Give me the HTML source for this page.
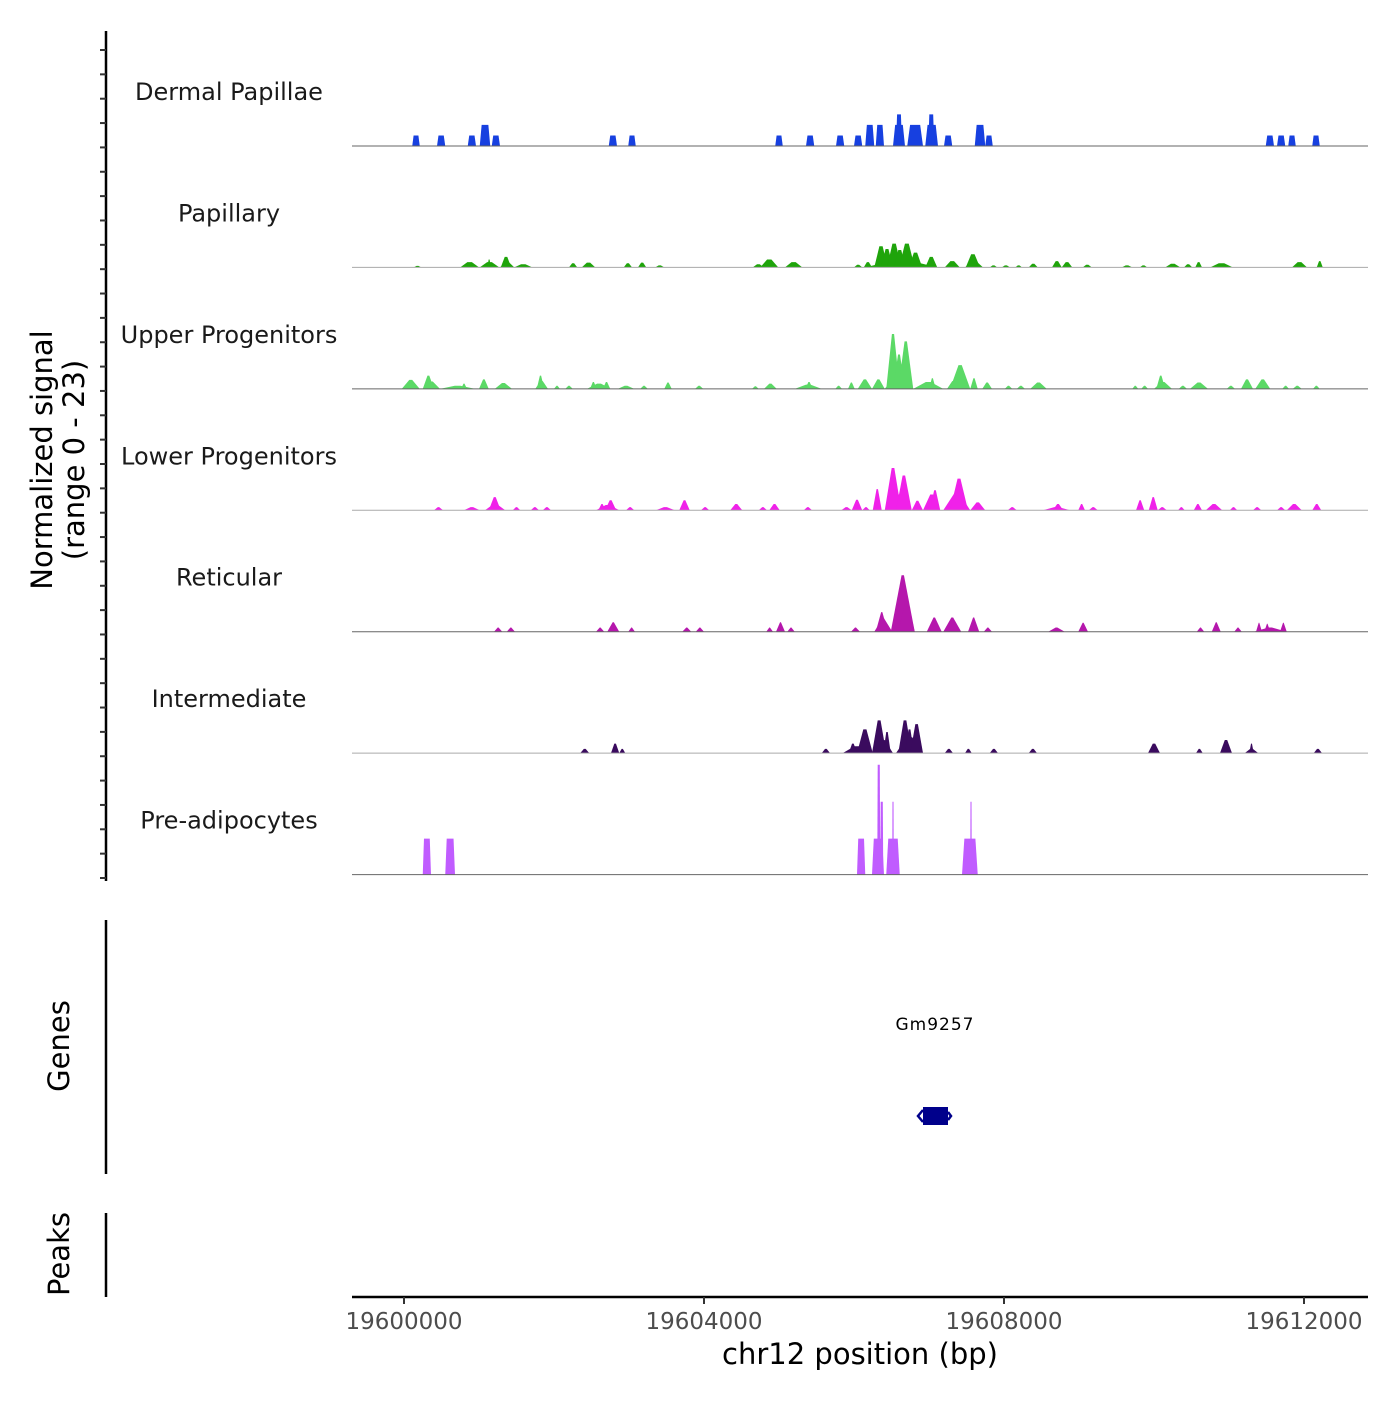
<!DOCTYPE html>
<html><head><meta charset="utf-8"><style>
html,body{margin:0;padding:0;background:#fff;}
svg text{font-family:"DejaVu Sans","Liberation Sans",sans-serif;}
</style></head><body>
<svg id="chart" width="1400" height="1400" viewBox="0 0 1400 1400" xmlns="http://www.w3.org/2000/svg">
<g id="tracks"></g>
<g id="yaxis">
<line x1="106" y1="31" x2="106" y2="881" stroke="#000" stroke-width="2.5"/>
</g>
<text transform="translate(52,460) rotate(-90)" text-anchor="middle" font-size="29">Normalized signal</text>
<text transform="translate(84,460) rotate(-90)" text-anchor="middle" font-size="29">(range 0 - 23)</text>
<line x1="106" y1="920" x2="106" y2="1174" stroke="#000" stroke-width="2.5"/>
<text transform="translate(69,1046) rotate(-90)" text-anchor="middle" font-size="29">Genes</text>
<line x1="106" y1="1213" x2="106" y2="1297" stroke="#000" stroke-width="2.5"/>
<text transform="translate(69,1254) rotate(-90)" text-anchor="middle" font-size="29">Peaks</text>
<g>
<text x="935" y="1030" text-anchor="middle" font-size="17" letter-spacing="1">Gm9257</text>
<rect x="923" y="1107" width="25" height="18" fill="#00008b"/>
<path d="M923 1110 L918 1116 L923 1122 M948 1112 L951 1116 L948 1120" stroke="#00008b" stroke-width="2.5" fill="none"/>
</g>
<g id="xaxis">
<line x1="352" y1="1297" x2="1368" y2="1297" stroke="#000" stroke-width="2.5"/>
</g>
<text x="860" y="1364" text-anchor="middle" font-size="29">chr12 position (bp)</text>
</svg>
<script>
const trackNames = ["Dermal Papillae","Papillary","Upper Progenitors","Lower Progenitors","Reticular","Intermediate","Pre-adipocytes"];
const trackColors = ["#1740e0","#1fa40b","#5bd966","#f021e9","#b517ac","#3a0b5e","#c05cff"];
const xTicks = [19600000,19604000,19608000,19612000];
const xTickLabels = ["19600000","19604000","19608000","19612000"];
const yMax = 23;
// peak segments: start / end (kb offset from 19600000), value
const dpStart = [0.11,0.44,0.85,1.01,1.17,2.73,2.99,4.95,5.36,5.76,6.00,6.15,6.29,6.52,6.56,6.71,6.95,6.99,7.20,7.61,7.75,11.49,11.64,11.79,12.11];
const dpEnd   = [0.21,0.55,0.96,1.15,1.28,2.84,3.09,5.05,5.47,5.87,6.11,6.27,6.40,6.68,6.64,6.92,7.12,7.07,7.31,7.75,7.85,11.60,11.75,11.89,12.21];
const dpValue = [2,2,2,4,2,2,2,2,2,2,2,4,4,4,6,4,4,6,2,4,2,2,2,2,2];
const papStart = [0.13,0.75,1.01,1.11,1.28,1.29,1.47,2.20,2.37,2.93,3.12,3.35,4.65,4.75,5.08,6.00,6.13,6.15,6.27,6.36,6.44,6.53,6.60,6.73,6.95,7.21,7.48,7.49,7.81,7.97,8.15,8.33,8.64,8.77,9.05,9.57,9.81,10.15,10.40,10.55,10.75,11.84,12.17];
const papEnd   = [0.23,1.00,1.27,1.16,1.47,1.43,1.71,2.31,2.55,3.04,3.23,3.47,4.80,4.99,5.31,6.11,6.24,7.11,6.45,6.52,6.63,6.69,6.81,6.91,7.11,7.41,7.72,7.68,7.91,8.08,8.24,8.45,8.77,8.91,9.17,9.71,9.91,10.35,10.51,10.64,11.05,12.04,12.25];
const papValue = [0.3,1.0,1.0,1.5,1.0,2.0,0.6,0.8,0.9,0.8,0.9,0.4,0.6,1.5,1.0,0.5,1.0,1.3,4.0,3.5,4.5,3.3,4.5,2.8,2.0,1.2,1.2,2.5,0.4,0.4,0.4,0.7,1.2,1.0,0.5,0.4,0.4,0.7,0.6,1.0,0.8,1.0,1.2];
const upStart = [-0.03,0.25,0.25,0.48,0.76,1.00,1.21,1.75,1.77,2.00,2.15,2.44,2.48,2.65,2.85,3.15,3.47,3.88,4.64,4.80,5.21,5.35,5.75,5.92,6.05,6.24,6.41,6.43,6.52,6.59,6.79,7.00,7.24,7.28,7.55,7.71,8.01,8.17,8.35,9.71,9.83,10.00,10.03,10.33,10.48,10.97,11.16,11.35,11.71,11.85,12.12];
const upEnd   = [0.21,0.48,0.40,0.95,0.84,1.13,1.44,1.92,1.87,2.08,2.25,2.76,2.57,2.75,3.07,3.25,3.57,3.99,4.73,4.97,5.57,5.45,5.84,6.01,6.24,6.41,6.79,6.61,6.68,6.79,7.19,7.09,7.41,7.55,7.65,7.84,8.11,8.28,8.57,9.79,9.92,10.24,10.15,10.44,10.72,11.08,11.32,11.55,11.80,11.97,12.21];
const upValue = [1.7,1.4,2.5,0.6,1.0,1.8,1.1,1.5,2.5,0.6,0.6,1.0,1.3,1.3,0.6,0.6,1.2,0.6,0.5,1.0,0.8,1.3,0.6,1.2,1.8,1.8,3.0,10.4,6.5,9.0,1.3,2.0,1.5,4.5,2.0,1.2,0.6,0.6,1.2,0.6,0.6,1.3,2.5,0.6,1.2,0.6,1.8,1.8,0.6,0.6,0.6];
const lpStart = [0.40,0.80,1.08,1.13,1.45,1.69,1.85,2.56,2.59,2.68,2.96,3.36,3.67,3.96,4.35,4.73,4.87,5.33,5.83,5.97,6.11,6.25,6.41,6.41,6.56,6.77,6.92,7.01,7.19,7.28,7.55,8.05,8.52,8.65,8.99,9.13,9.76,9.93,10.05,10.32,10.53,10.69,11.01,11.32,11.64,11.77,12.11];
const lpEnd   = [0.52,1.01,1.35,1.29,1.55,1.80,1.96,2.87,2.69,2.83,3.07,3.61,3.81,4.07,4.51,4.84,5.01,5.44,5.97,6.11,6.21,6.37,6.77,6.63,6.77,6.92,7.15,7.15,7.55,7.52,7.75,8.17,8.88,8.79,9.08,9.25,9.87,10.05,10.17,10.41,10.64,10.91,11.11,11.43,11.75,11.97,12.23];
const lpValue = [0.6,0.6,1.2,2.5,0.6,0.6,0.6,1.0,1.2,1.9,0.6,0.6,1.9,0.6,1.2,0.6,1.2,0.6,0.6,2.0,0.6,4.0,3.0,8.0,6.6,1.8,3.0,3.8,3.3,6.0,1.5,0.6,0.6,1.2,1.2,0.6,1.9,2.5,0.6,0.6,1.2,1.2,0.6,0.6,0.6,1.2,1.2];
const retStart = [1.20,1.37,2.56,2.71,2.99,3.71,3.89,4.83,4.96,5.11,5.96,6.27,6.29,6.49,6.59,6.97,7.19,7.52,7.73,8.59,8.99,10.57,10.77,11.07,11.33,11.36,11.47,11.68];
const retEnd   = [1.31,1.48,2.67,2.87,3.08,3.83,4.00,4.92,5.08,5.21,6.08,6.51,6.45,6.81,6.81,7.17,7.43,7.67,7.84,8.81,9.12,10.67,10.89,11.17,11.77,11.44,11.55,11.77];
const retValue = [0.8,0.8,0.8,1.8,0.8,0.8,0.8,0.8,1.8,0.8,0.8,2.5,3.7,10.7,6.0,2.7,2.7,2.7,0.8,0.8,1.7,0.8,1.8,0.8,0.8,1.7,1.5,1.7];
const intStart = [2.35,2.76,2.87,5.57,5.85,5.93,6.04,6.24,6.24,6.39,6.56,6.59,6.68,6.75,7.21,7.48,7.81,8.33,9.92,10.56,10.88,11.21,11.27,12.13];
const intEnd   = [2.47,2.87,2.95,5.68,6.24,6.04,6.25,6.52,6.43,6.49,6.92,6.77,6.80,6.92,7.32,7.57,7.92,8.44,10.08,10.65,11.04,11.39,11.33,12.24];
const intValue = [0.8,1.8,0.8,0.8,1.3,1.8,4.5,2.5,6.2,4.0,3.0,6.2,4.5,5.5,0.8,0.8,0.8,0.8,1.8,0.8,2.5,0.8,1.8,0.8];
const preStart = [0.25,0.55,6.04,6.24,6.31,6.35,6.43,6.51,7.44,7.55];
const preEnd   = [0.36,0.68,6.15,6.40,6.35,6.39,6.61,6.53,7.65,7.57];
const preValue = [6.8,6.8,6.8,6.8,20.8,13.8,6.8,13.8,6.8,13.8];

const starts = [dpStart,papStart,upStart,lpStart,retStart,intStart,preStart];
const ends = [dpEnd,papEnd,upEnd,lpEnd,retEnd,intEnd,preEnd];
const values = [dpValue,papValue,upValue,lpValue,retValue,intValue,preValue];
const slants = [0.18,0.38,0.42,0.42,0.45,0.4,0.15];

const NS = "http://www.w3.org/2000/svg";
const xMin = 19600000 - 52*1000/75, xMaxBp = 19600000 + (1368-404)*1000/75;
function xScale(bp){ return 352 + (bp - xMin)/(xMaxBp - xMin)*(1368-352); }
const trackH = 121.43, firstBase = 146;
function baseY(i){ return firstBase + i*trackH; }
function yScale(v,i){ return baseY(i) - v/yMax*trackH; }

const tracks = document.getElementById('tracks');
for (let i=0;i<trackNames.length;i++){
  const g = document.createElementNS(NS,'g');
  
  
  tracks.appendChild(g);
  const lab = document.createElementNS(NS,'text');
  
  
  lab.setAttribute('x', 229); lab.setAttribute('y', baseY(i)-46);
  lab.setAttribute('text-anchor','middle'); lab.setAttribute('font-size','24');
  lab.setAttribute('fill','#1a1a1a');
  lab.textContent = trackNames[i];
  g.appendChild(lab);
  for (let k=0;k<values[i].length;k++){
    const x0 = xScale(19600000+starts[i][k]*1000), x1 = xScale(19600000+ends[i][k]*1000);
    const s = (x1-x0)*slants[i];
    const yb = baseY(i), yt = yScale(values[i][k], i);
    const p = document.createElementNS(NS,'polygon');
    
    
    p.setAttribute('points', `${x0},${yb} ${x0+s},${yt} ${x1-s},${yt} ${x1},${yb}`);
    p.setAttribute('fill', trackColors[i]);
    g.appendChild(p);
  }
  const bl = document.createElementNS(NS,'line');
  
  
  bl.setAttribute('x1',352); bl.setAttribute('x2',1368);
  bl.setAttribute('y1',baseY(i)); bl.setAttribute('y2',baseY(i));
  bl.setAttribute('stroke', i===1||i===3||i===5 ? '#aaa' : '#666'); bl.setAttribute('stroke-width','1');
  g.appendChild(bl);
}
const yax = document.getElementById('yaxis');
for (let t=0;t<35;t++){
  const y = 878 - t*(878-50)/34;
  const l = document.createElementNS(NS,'line');
  
  
  l.setAttribute('x1',100); l.setAttribute('x2',106);
  l.setAttribute('y1',y); l.setAttribute('y2',y);
  l.setAttribute('stroke','#333'); l.setAttribute('stroke-width','2');
  yax.appendChild(l);
}
const xax = document.getElementById('xaxis');
xTicks.forEach((v,k)=>{
  const x = xScale(v);
  const l = document.createElementNS(NS,'line');
  
  
  l.setAttribute('x1',x); l.setAttribute('x2',x); l.setAttribute('y1',1297); l.setAttribute('y2',1304);
  l.setAttribute('stroke','#333'); l.setAttribute('stroke-width','2');
  xax.appendChild(l);
  const t = document.createElementNS(NS,'text');
  
  
  t.setAttribute('x',x); t.setAttribute('y',1329);
  t.setAttribute('text-anchor','middle'); t.setAttribute('font-size','23'); t.setAttribute('fill','#4d4d4d');
  t.textContent = xTickLabels[k];
  xax.appendChild(t);
});
</script>
</body></html>
